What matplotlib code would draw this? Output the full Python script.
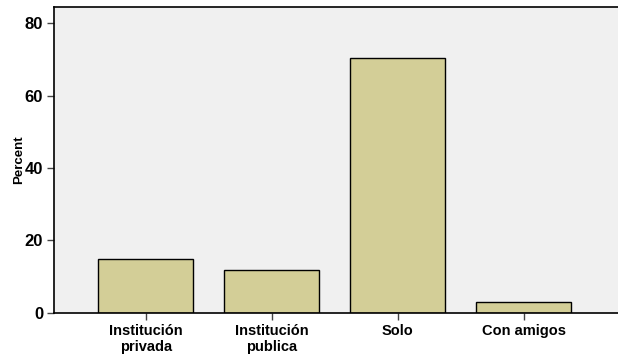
import matplotlib
matplotlib.use("Agg")
import matplotlib.pyplot as plt

categories = ["Institución\nprivada", "Institución\npublica", "Solo", "Con amigos"]
percent = [14.8, 11.9, 70.3, 3.0]
yticks = [0, 20, 40, 60, 80]

plt.rcParams['font.family'] = ['Liberation Sans', 'DejaVu Sans']
fig = plt.figure(figsize=(6.18, 3.6), dpi=100)
ax = fig.add_axes([54.3/618, 1-312.7/360, 1-54.3/618, (312.7-7)/360])
ax.set_facecolor('#F0F0F0')
x = list(range(len(categories)))
ax.bar(x, percent, width=0.754, color='#D3CE97', edgecolor='black', linewidth=1.0, zorder=2)
ax.set_xlim(-0.726, 3.746)
ax.set_ylim(0, 84.5)
ax.set_xticks(x)
ax.set_xticklabels(categories, fontsize=10.5, fontweight='bold', linespacing=1.2)
ax.set_yticks(yticks)
ax.set_yticklabels([str(v) for v in yticks], fontsize=12, fontweight='bold')
ax.set_ylabel('Percent', fontsize=9.5, fontweight='bold', labelpad=0)
for s in ['left', 'bottom', 'top']:
    ax.spines[s].set_color('black')
    ax.spines[s].set_linewidth(1.2)
ax.spines['right'].set_visible(False)
ax.tick_params(axis='both', length=5, width=1, color='#444444', pad=3)
fig.savefig('out.png', dpi=100)
